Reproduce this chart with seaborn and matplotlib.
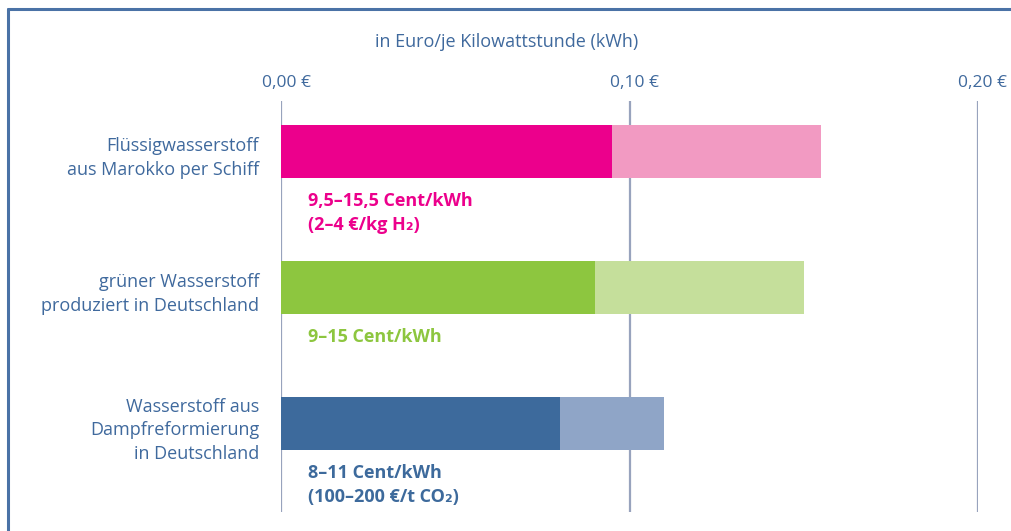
import matplotlib
matplotlib.use("Agg")
import matplotlib.pyplot as plt
import matplotlib.transforms as mtransforms
import seaborn as sns
import pandas as pd
from matplotlib.lines import Line2D

# Cost ranges for hydrogen, in euro per kWh
categories = [
    "Flüssigwasserstoff\naus Marokko per Schiff",
    "grüner Wasserstoff\nproduziert in Deutschland",
    "Wasserstoff aus\nDampfreformierung\nin Deutschland",
]
low_values = [0.095, 0.09, 0.08]
high_values = [0.155, 0.15, 0.11]
range_labels = [
    "9,5–15,5 Cent/kWh\n(2–4 €/kg H₂)",
    "9–15 Cent/kWh",
    "8–11 Cent/kWh\n(100–200 €/t CO₂)",
]
x_ticks = [0.0, 0.10, 0.20]
x_tick_labels = ["0,00 €", "0,10 €", "0,20 €"]
axis_title = "in Euro/je Kilowattstunde (kWh)"

dark_colors = ["#EC008C", "#8DC63F", "#3D6A9C"]
light_colors = ["#F29AC2", "#C5DF9B", "#8FA5C7"]
text_blue = "#3F699D"
grid_color = "#98A3BD"
frame_color = "#4A72A6"

sns.set_theme(style="white")
plt.rcParams["font.family"] = ["Open Sans", "DejaVu Sans"]
FS = 13.0

df = pd.DataFrame({"cat": categories, "low": low_values, "high": high_values})

W, H = 1011, 531
fig = plt.figure(figsize=(W / 100, H / 100), dpi=100)
ax_left, ax_right, ax_top, ax_bottom = 281, 978, 101, 512
ax = fig.add_axes([ax_left / W, 1 - ax_bottom / H,
                   (ax_right - ax_left) / W, (ax_bottom - ax_top) / H])

# vertical reference lines behind the bars
for t in x_ticks:
    ax.axvline(t, color=grid_color, lw=1.6, zorder=0)

bar_h = 0.39
sns.barplot(data=df, x="high", y="cat", hue="cat", palette=light_colors,
            orient="h", width=bar_h, legend=False, ax=ax, zorder=2,
            linewidth=0, saturation=1)
sns.barplot(data=df, x="low", y="cat", hue="cat", palette=dark_colors,
            orient="h", width=bar_h, legend=False, ax=ax, zorder=3,
            linewidth=0, saturation=1)

ax.set_xlim(0, 0.20)
ax.set_ylim(2.651, -0.371)
ax.set_xlabel("")
ax.set_ylabel("")
for s in ax.spines.values():
    s.set_visible(False)

ax.xaxis.tick_top()
ax.set_xticks(x_ticks)
ax.set_xticklabels(x_tick_labels)
ax.tick_params(axis="x", length=0, pad=7, labelsize=12.5, labelcolor=text_blue)
shift = mtransforms.ScaledTranslation(5 / 100, 0, fig.dpi_scale_trans)
for lab in ax.get_xticklabels():
    lab.set_transform(lab.get_transform() + shift)
ax.set_yticks([])

# category names, right-aligned left of the bars
for i, name in enumerate(categories):
    ax.text(-0.0063, i + 0.05, name, ha="right", va="center",
            fontsize=FS, color=text_blue, linespacing=1.4,
            transform=ax.transData, clip_on=False)

# range labels beneath each bar
for i, lab in enumerate(range_labels):
    ax.text(0.0078, i + bar_h / 2 + 0.1, lab, ha="left", va="top",
            fontsize=FS, fontweight="bold", color=dark_colors[i],
            linespacing=1.45, clip_on=False)

fig.text(507 / W, 1 - 42 / H, axis_title, ha="center", va="center",
         fontsize=FS, color=text_blue)

# frame along top and left edge
fig.add_artist(Line2D([8 / W, 1], [1 - 8.5 / H, 1 - 8.5 / H],
                      transform=fig.transFigure, color=frame_color, lw=2.2))
fig.add_artist(Line2D([8 / W, 8 / W], [0, 1 - 8.5 / H],
                      transform=fig.transFigure, color=frame_color, lw=2.2))

fig.savefig("out.png", dpi=100)
